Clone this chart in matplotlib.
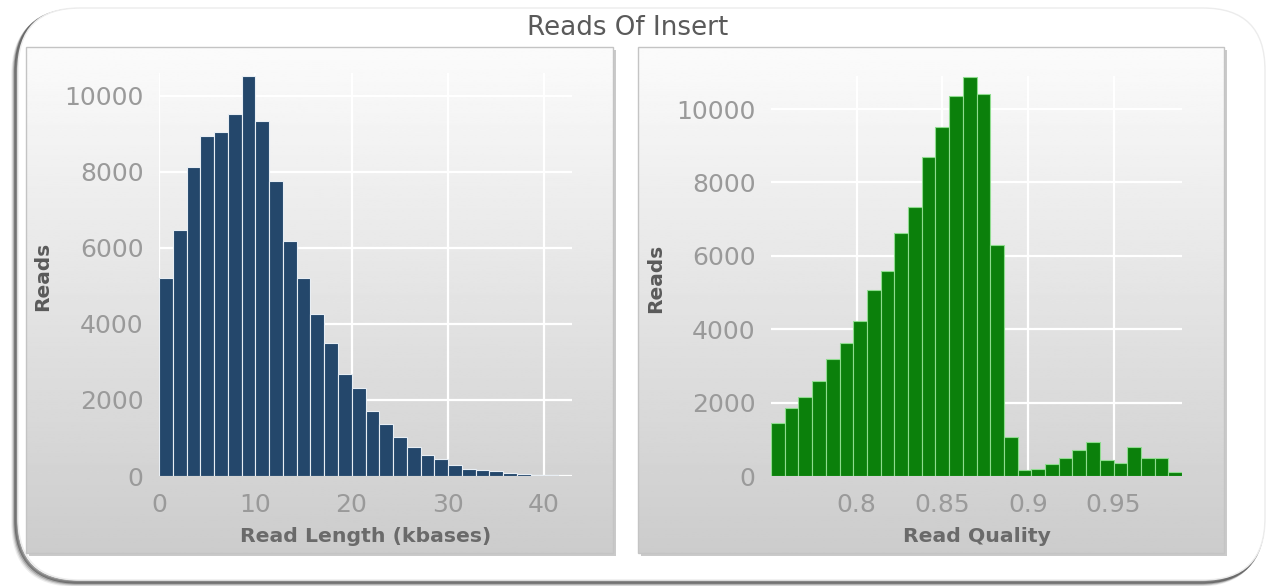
import matplotlib.pyplot as plt
import numpy as np
from matplotlib.patches import FancyBboxPatch, Rectangle

# histogram de longituds (kb) i qualitat de les lectures
len_bin = 1.43
len_counts = [5210, 6470, 8130, 8950, 9060, 9520, 10520, 9350, 7760, 6190,
              5210, 4260, 3500, 2680, 2310, 1710, 1370, 1030, 760, 550,
              440, 280, 190, 160, 120, 90, 50, 30, 20, 10]

qual_start = 0.75
qual_bin = 0.008
qual_counts = [1440, 1850, 2150, 2590, 3190, 3620, 4220, 5070, 5590, 6620,
               7330, 8700, 9510, 10360, 10880, 10400, 6290, 1070, 160, 190,
               320, 480, 700, 920, 440, 350, 800, 480, 490, 120]

len_ticks = [0, 10, 20, 30, 40]
qual_ticks = [0.8, 0.85, 0.9, 0.95]
qual_ticklabels = ['0.8', '0.85', '0.9', '0.95']
y_ticks = [0, 2000, 4000, 6000, 8000, 10000]

W, H = 1274, 586
fig = plt.figure(figsize=(W / 100, H / 100), dpi=100)

# fons: marc arrodonit i panells amb degradat (coordenades en píxels)
bg = fig.add_axes([0, 0, 1, 1])
bg.set_xlim(0, W)
bg.set_ylim(H, 0)
bg.axis('off')

for k, a in enumerate([0.08, 0.14, 0.24, 0.45]):
    off = 5 - k
    bg.add_patch(FancyBboxPatch((18 - off, 8 + off), 1247, 572,
                                boxstyle='round,pad=0,rounding_size=62',
                                fc='none', ec='#222222', lw=2.5, alpha=a))
bg.add_patch(FancyBboxPatch((18, 8), 1247, 572,
                            boxstyle='round,pad=0,rounding_size=62',
                            fc='white', ec='#ececec', lw=1))

grad = np.linspace(0.985, 0.80, 256)[:, None]
for x0, x1 in [(26, 613), (638, 1224)]:
    bg.add_patch(Rectangle((x0 + 3, 50), x1 - x0, 506, fc='#a8a8a8',
                           ec='none', alpha=0.6))
    bg.imshow(grad, cmap='gray', vmin=0, vmax=1, aspect='auto',
              extent=[x0, x1, 553, 47], zorder=2)
    bg.add_patch(Rectangle((x0, 47), x1 - x0, 506, fc='none', ec='#c4c4c4',
                           lw=1, zorder=3))

fig.text(628 / W, 1 - 28 / H, 'Reads Of Insert', ha='center', va='center',
         fontsize=18.8, color='#5a5a5a')


def style(ax, xlabel, xl, yl):
    ax.set_facecolor('none')
    for s in ax.spines.values():
        s.set_visible(False)
    ax.grid(True, color='white', lw=1.6)
    ax.set_axisbelow(True)
    ax.tick_params(length=0, labelsize=18, labelcolor='#9a9a9a')
    ax.tick_params(axis='y', pad=11)
    ax.tick_params(axis='x', pad=12)
    ax.set_yticks(y_ticks)
    ax.set_xlabel(xlabel, fontsize=14.7, fontweight='bold', color='#6a6a6a',
                  va='center')
    ax.set_ylabel('Reads', fontsize=14.5, fontweight='bold', color='#5a5a5a',
                  va='center')
    ax.xaxis.set_label_coords(0.5, xl)
    ax.yaxis.set_label_coords(yl, 0.495)


# panell esquerre: longitud
ax1 = fig.add_axes([159 / W, 110 / H, 413 / W, 403 / H], zorder=5)
edges = np.arange(len(len_counts)) * len_bin
ax1.bar(edges, len_counts, width=len_bin, align='edge', color='#24476b',
        edgecolor='#e8eef4', linewidth=0.8, zorder=3)
ax1.set_xlim(0, len(len_counts) * len_bin)
ax1.set_ylim(0, 10600)
ax1.set_xticks(len_ticks)
style(ax1, 'Read Length (kbases)', -0.149, -0.281)

# panell dret: qualitat
ax2 = fig.add_axes([771 / W, 110 / H, 411 / W, 400 / H], zorder=5)
qedges = qual_start + np.arange(len(qual_counts)) * qual_bin
ax2.bar(qedges, qual_counts, width=qual_bin, align='edge', color='#0b800b',
        edgecolor='#8fdc8f', linewidth=0.8, zorder=3)
ax2.set_xlim(qual_start, qual_start + len(qual_counts) * qual_bin)
ax2.set_ylim(0, 10900)
ax2.set_xticks(qual_ticks)
ax2.set_xticklabels(qual_ticklabels)
style(ax2, 'Read Quality', -0.15, -0.28)

fig.savefig('out.png', dpi=100)
